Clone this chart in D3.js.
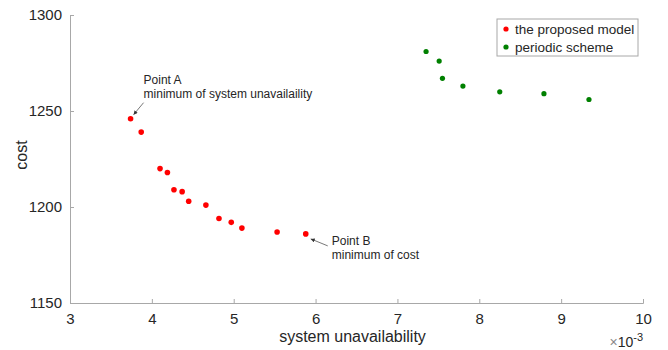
<!DOCTYPE html>
<html>
<head>
<meta charset="utf-8">
<script src="https://cdn.jsdelivr.net/npm/d3@7"></script>
<style>
  body { margin: 0; background: #fff; }
  text { font-family: 'Liberation Sans', Arial, sans-serif; fill: #262626; }
</style>
</head>
<body>
<div class="chart"></div>
<script>
// proposed model (x in 1e-3)
const proposedX = [3.74, 3.87, 4.10, 4.19, 4.27, 4.37, 4.45, 4.66, 4.82, 4.97, 5.10, 5.53, 5.88];
const proposedCost = [1246, 1239, 1220, 1218, 1209, 1208, 1203, 1201, 1194, 1192, 1189, 1187, 1186];

// periodic scheme
const periodicX = [7.35, 7.51, 7.55, 7.80, 8.25, 8.79, 9.34];
const periodicCost = [1281, 1276, 1267, 1263, 1260, 1259, 1256];

const xTicks = [3, 4, 5, 6, 7, 8, 9, 10];
const yTicks = [1150, 1200, 1250, 1300];
const seriesNames = ['the proposed model', 'periodic scheme'];

const width = 668;
const height = 350;
const margin = { top: 15, right: 25, bottom: 47, left: 70 };
const graphWidth = width - margin.left - margin.right;
const graphHeight = height - margin.top - margin.bottom;

const svg = d3
  .select('.chart')
  .append('svg')
  .attr('width', width)
  .attr('height', height);

const graph = svg
  .append('g')
  .attr('transform', `translate(${margin.left}, ${margin.top})`);

const xScale = d3.scaleLinear().domain([3, 10]).range([0, graphWidth]);
const yScale = d3.scaleLinear().domain([1150, 1300]).range([graphHeight, 0]);

const xAxis = d3
  .axisBottom(xScale)
  .tickValues(xTicks)
  .tickFormat(d3.format('d'))
  .tickSize(-4)
  .tickPadding(10);
const yAxis = d3
  .axisLeft(yScale)
  .tickValues(yTicks)
  .tickFormat(d3.format('d'))
  .tickSize(-4)
  .tickPadding(8);

const xAxisGroup = graph
  .append('g')
  .attr('transform', `translate(0, ${graphHeight})`)
  .call(xAxis);
const yAxisGroup = graph.append('g').call(yAxis);

[xAxisGroup, yAxisGroup].forEach((g) => {
  g.select('.domain').attr('stroke', '#a8a8a8');
  g.selectAll('.tick line').attr('stroke', '#a8a8a8');
  g.selectAll('.tick text')
    .style('font-size', '15px')
    .style('font-family', "'Liberation Sans', Arial, sans-serif")
    .attr('fill', '#262626');
});

// axis labels
svg
  .append('text')
  .attr('x', margin.left + xScale(6.5) - 4)
  .attr('y', 342)
  .attr('text-anchor', 'middle')
  .style('font-size', '16px')
  .text('system unavailability');

svg
  .append('text')
  .attr('transform', 'rotate(-90)')
  .attr('x', -155)
  .attr('y', 27)
  .attr('text-anchor', 'middle')
  .style('font-size', '16px')
  .text('cost');

const expLabel = svg
  .append('text')
  .attr('x', margin.left + graphWidth)
  .attr('y', 347)
  .attr('text-anchor', 'end')
  .style('font-size', '14px');
expLabel.append('tspan').text('\u00d7').attr('fill', '#888');
expLabel.append('tspan').text('10');
expLabel.append('tspan').text('-3').attr('dy', -6).style('font-size', '11px');

// points
const proposed = proposedX.map((x, i) => ({ x, cost: proposedCost[i] }));
const periodic = periodicX.map((x, i) => ({ x, cost: periodicCost[i] }));

graph
  .selectAll('.proposed')
  .data(proposed)
  .enter()
  .append('circle')
  .attr('class', 'proposed')
  .attr('cx', (d) => xScale(d.x))
  .attr('cy', (d) => yScale(d.cost))
  .attr('r', 2.8)
  .attr('fill', '#ff0000');

graph
  .selectAll('.periodic')
  .data(periodic)
  .enter()
  .append('circle')
  .attr('class', 'periodic')
  .attr('cx', (d) => xScale(d.x))
  .attr('cy', (d) => yScale(d.cost))
  .attr('r', 2.6)
  .attr('fill', '#008000');

// arrows
const defs = svg.append('defs');
defs
  .append('marker')
  .attr('id', 'head')
  .attr('viewBox', '0 0 10 10')
  .attr('refX', 10)
  .attr('refY', 5)
  .attr('markerWidth', 6)
  .attr('markerHeight', 5)
  .attr('orient', 'auto')
  .append('path')
  .attr('d', 'M0,0 L10,5 L0,10 Z')
  .attr('fill', '#333');

const pA = proposed[0];
const pB = proposed[proposed.length - 1];

graph
  .append('line')
  .attr('x1', xScale(pA.x) + 13)
  .attr('y1', yScale(pA.cost) - 16)
  .attr('x2', xScale(pA.x) + 3)
  .attr('y2', yScale(pA.cost) - 4)
  .attr('stroke', '#555')
  .attr('stroke-width', 0.8)
  .attr('marker-end', 'url(#head)');

graph
  .append('line')
  .attr('x1', xScale(pB.x) + 22)
  .attr('y1', yScale(pB.cost) + 12)
  .attr('x2', xScale(pB.x) + 5)
  .attr('y2', yScale(pB.cost) + 5)
  .attr('stroke', '#555')
  .attr('stroke-width', 0.8)
  .attr('marker-end', 'url(#head)');

const noteA = graph
  .append('text')
  .attr('x', xScale(pA.x) + 13)
  .attr('y', yScale(pA.cost) - 35)
  .style('font-size', '12px');
noteA.append('tspan').text('Point A');
noteA.append('tspan').attr('x', xScale(pA.x) + 13).attr('dy', 14.5).text('minimum of system unavailaility');

const noteB = graph
  .append('text')
  .attr('x', xScale(pB.x) + 26)
  .attr('y', yScale(pB.cost) + 11)
  .style('font-size', '12px');
noteB.append('tspan').text('Point B');
noteB.append('tspan').attr('x', xScale(pB.x) + 26).attr('dy', 14.5).text('minimum of cost');

// legend
const legend = svg.append('g').attr('transform', 'translate(497, 19)');
legend
  .append('rect')
  .attr('width', 141)
  .attr('height', 37)
  .attr('fill', '#fff')
  .attr('stroke', '#a8a8a8');
const legendColors = ['#ff0000', '#008000'];
seriesNames.forEach((name, i) => {
  legend
    .append('circle')
    .attr('cx', 9)
    .attr('cy', 10 + i * 18)
    .attr('r', 2.6)
    .attr('fill', legendColors[i]);
  legend
    .append('text')
    .attr('x', 18)
    .attr('y', 15 + i * 18)
    .style('font-size', '13.5px')
    .attr('textLength', null)
    .text(name);
});
</script>
</body>
</html>
